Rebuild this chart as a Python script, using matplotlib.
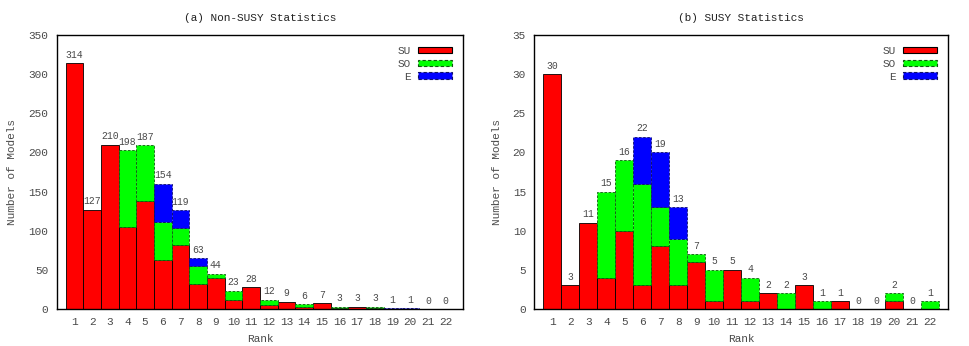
import matplotlib
matplotlib.use("Agg")
import matplotlib.pyplot as plt
from matplotlib.patches import Patch
import numpy as np

plt.rcParams["font.family"] = ["Liberation Mono", "DejaVu Sans Mono"]

ranks = list(range(1, 23))

# (a) Non-SUSY
nonsusy_su = [314, 127, 210, 105, 138, 62, 82, 32, 40, 11, 28, 5, 9, 3, 7, 1, 3, 1, 0, 0, 0, 0]
nonsusy_so = [0, 0, 0, 98, 71, 49, 21, 23, 5, 12, 0, 7, 0, 3, 0, 2, 0, 2, 0, 0, 0, 0]
nonsusy_e = [0, 0, 0, 0, 0, 49, 23, 10, 0, 0, 0, 0, 0, 0, 0, 0, 0, 0, 1, 1, 0, 0]
nonsusy_labels = [314, 127, 210, 198, 187, 154, 119, 63, 44, 23, 28, 12, 9, 6, 7, 3, 3, 3, 1, 1, 0, 0]

# (b) SUSY
susy_su = [30, 3, 11, 4, 10, 3, 8, 3, 6, 1, 5, 1, 2, 0, 3, 0, 1, 0, 0, 1, 0, 0]
susy_so = [0, 0, 0, 11, 9, 13, 5, 6, 1, 4, 0, 3, 0, 2, 0, 1, 0, 0, 0, 1, 0, 1]
susy_e = [0, 0, 0, 0, 0, 6, 7, 4, 0, 0, 0, 0, 0, 0, 0, 0, 0, 0, 0, 0, 0, 0]
susy_labels = [30, 3, 11, 15, 16, 22, 19, 13, 7, 5, 5, 4, 2, 2, 3, 1, 1, 0, 0, 2, 0, 1]

styles = [
    ("SU", "#ff0000", "#000000", "solid"),
    ("SO", "#00ff00", "#115511", (0, (3, 2))),
    ("E", "#0000ff", "#111166", (0, (3, 2))),
]

TXT = "#4a4a4a"


def draw_panel(ax, title, series, labels, ymax, ystep):
    x = np.array(ranks)
    bottom = np.zeros(len(ranks))
    for (name, face, edge, ls), vals in zip(styles, series):
        vals = np.array(vals, dtype=float)
        m = vals > 0
        ax.bar(x[m], vals[m], width=1.0, bottom=bottom[m], color=face,
               edgecolor=edge, linewidth=0.6, linestyle=ls)
        bottom += vals
    for xi, top, lab in zip(x, bottom, labels):
        ax.annotate(str(lab), (xi, top), xytext=(0, 2.5), textcoords="offset points",
                    ha="center", va="bottom", fontsize=7, color=TXT)
    ax.set_xlim(0, 23)
    ax.set_ylim(0, ymax)
    ax.set_xticks(ranks)
    ax.set_yticks(np.arange(0, ymax + 1, ystep))
    ax.tick_params(length=0, labelsize=8, colors=TXT, pad=6)
    for sp in ax.spines.values():
        sp.set_linewidth(1.0)
    ax.set_title(title, fontsize=8, color="#222222", pad=10)
    ax.set_xlabel("Rank", fontsize=8, color=TXT, labelpad=5)
    ax.set_ylabel("Number of Models", fontsize=8, color=TXT, labelpad=8)
    handles = [Patch(facecolor=f, edgecolor=e, linestyle=l, linewidth=0.8, label=n)
               for n, f, e, l in styles]
    ax.legend(handles=handles, loc="upper right", frameon=False, markerfirst=False,
              fontsize=8, handlelength=3.1, handleheight=0.55, labelspacing=0.25,
              handletextpad=0.6, borderaxespad=0.6, labelcolor=TXT)


fig = plt.figure(figsize=(9.69, 3.46), dpi=100)
ax1 = fig.add_axes([0.0585, 0.107, 0.4197, 0.792])
ax2 = fig.add_axes([0.5514, 0.107, 0.4272, 0.792])

draw_panel(ax1, "(a) Non-SUSY Statistics", [nonsusy_su, nonsusy_so, nonsusy_e],
           nonsusy_labels, 350, 50)
draw_panel(ax2, "(b) SUSY Statistics", [susy_su, susy_so, susy_e],
           susy_labels, 35, 5)

fig.savefig("out.png", dpi=100)
